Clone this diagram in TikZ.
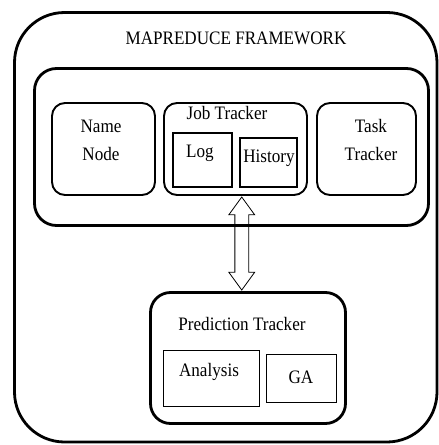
\documentclass[tikz,border=0pt]{standalone}
\usepackage{fontspec}
\setmainfont{Liberation Serif}[FakeStretch=0.9]
\usepackage{tikz}
\usetikzlibrary{positioning,arrows.meta,calc,shapes.arrows}
\tikzset{
  framebox/.style={draw, rounded corners=50pt, line width=2.8pt, inner sep=0pt},
  layerbox/.style={draw, rounded corners=22pt, line width=2.8pt, inner sep=0pt},
  servicebox/.style={draw, rounded corners=13pt, line width=1.9pt, inner sep=0pt},
  predbox/.style={draw, rounded corners=20pt, line width=2.8pt, inner sep=0pt},
  partbox/.style={draw, line width=1.9pt, inner sep=0pt},
  subbox/.style={draw, line width=1.4pt, inner sep=0pt},
  linkarrow/.style={draw, double arrow, line width=0.8pt, inner xsep=0pt, inner ysep=6.5pt, double arrow head extend=6pt, double arrow tip angle=72},
  lbl/.style={inner sep=0pt, align=center, font=\fontsize{19}{28}\selectfont}
}
\begin{document}
\begin{tikzpicture}[x=1pt, y=-1pt]
  \useasboundingbox (0,0) rectangle (439,445);
  % outer frame and title
  \node[framebox, minimum width=422.5pt, minimum height=429.5pt] (frame) at (225.75,227.25) {};
  \node[lbl] (title) at (236,38) {MAPREDUCE FRAMEWORK};
  % hadoop layer
  \node[layerbox, minimum width=394pt, minimum height=157pt] (layer) at (231.5,147) {};
  \node[servicebox, minimum width=103pt, minimum height=92pt] (namebox) at (103.5,149) {};
  \node[servicebox, minimum width=143pt, minimum height=92pt] (jobbox) at (235.5,149) {};
  \node[servicebox, minimum width=99pt, minimum height=92pt] (taskbox) at (366.5,149) {};
  \node[lbl] (namelbl) at (101,140) {Name\\Node};
  \node[lbl] (tasklbl) at (371,140) {Task\\Tracker};
  \node[lbl] (joblbl) at (227,113) {Job Tracker};
  \node[partbox, minimum width=59pt, minimum height=54pt] (logbox) at (202.5,160) {};
  \node[partbox, minimum width=57pt, minimum height=49pt] (histbox) at (268.5,162.5) {};
  \node[lbl] (loglbl) at (200,153) {Log};
  \node[lbl] (histlbl) at (269,158) {History};
  % prediction tracker
  \node[predbox, minimum width=195pt, minimum height=131pt] (predbox) at (248,358) {};
  \node[lbl] (predlbl) at (242,324) {Prediction Tracker};
  \node[subbox, minimum width=96pt, minimum height=56pt] (anabox) at (211.5,378.5) {};
  \node[subbox, minimum width=70pt, minimum height=48pt] (gabox) at (301.5,378.5) {};
  \node[lbl] (analbl) at (209,372) {Analysis};
  \node[lbl] (galbl) at (301,377) {GA};
  % link between job tracker and prediction tracker
  \node[linkarrow, rotate=90, minimum height=93pt] (link) at ($(jobbox.south)!0.5!(predbox.north)$) {};
\end{tikzpicture}
\end{document}
